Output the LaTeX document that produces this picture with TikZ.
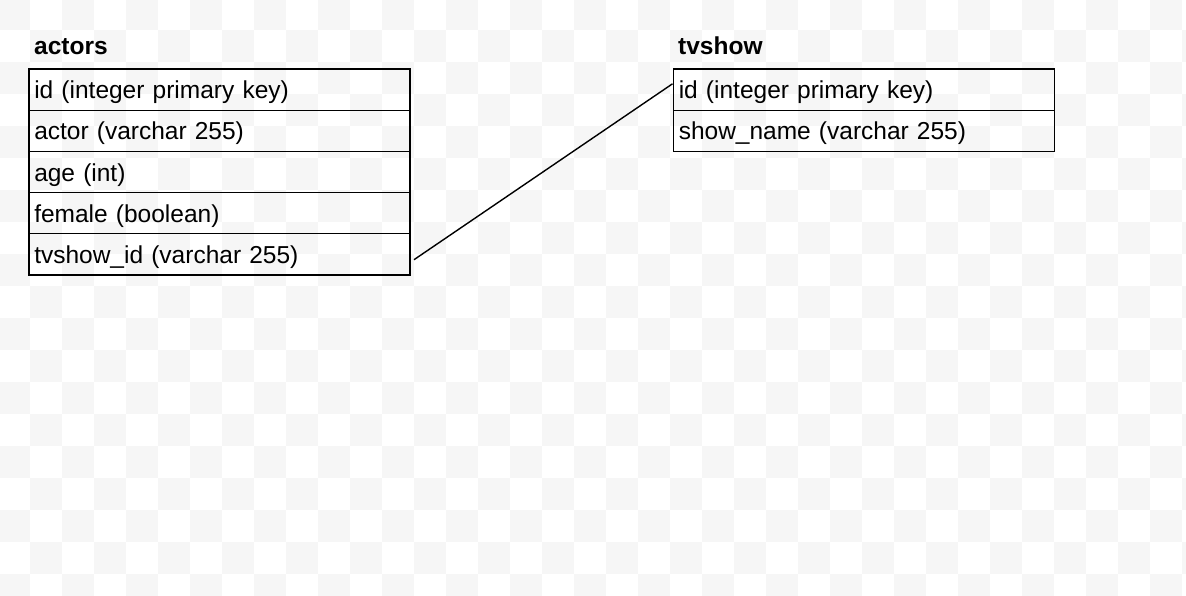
\documentclass[tikz,border=0pt]{standalone}
\usepackage{fontspec}
\setmainfont{Liberation Sans}
\usetikzlibrary{calc}
\definecolor{chk}{RGB}{246,246,246}
\tikzset{
  rowbox/.style={draw=black, line width=1.5bp, rectangle, anchor=north west,
    minimum width=381bp, minimum height=41.1bp, inner xsep=5.5bp, inner ysep=0pt,
    text width=370bp, align=left, text height=29.6bp, text depth=11.5bp,
    font=\fontsize{24.5bp}{29bp}\selectfont},
  tabtitle/.style={anchor=base west, inner sep=0pt,
    font=\fontsize{24.5bp}{29bp}\selectfont\bfseries},
  conn/.style={draw=black, line width=1.4bp}
}
\begin{document}
\begin{tikzpicture}[x=1bp,y=-1bp]
\useasboundingbox (0,0) rectangle (1186,596);
\begin{scope}
\clip (0,0) rectangle (1186,596);
\fill[white] (0,0) rectangle (1186,596);
\foreach \i in {0,...,37}{
  \foreach \j in {0,...,18}{
    \pgfmathtruncatemacro\s{mod(\i+\j,2)}
    \ifnum\s=0 \fill[chk] (-2+32*\i,-2+32*\j) rectangle ++(32,32);\fi
  }
}
\end{scope}
% actors table
\node[tabtitle] (tA) at (34,54.5) {actors};
\node[rowbox] (a1) at (28,68.5) {id (integer primary key)};
\node[rowbox] (a2) at (28,109.6) {actor (varchar 255)};
\node[rowbox] (a3) at (28,150.7) {age (int)};
\node[rowbox] (a4) at (28,191.8) {female (boolean)};
\node[rowbox] (a5) at (28,232.9) {tvshow\_id (varchar 255)};
% tvshow table
\node[tabtitle] (tT) at (678,54.5) {tvshow};
\node[rowbox] (t1) at (672.5,68.5) {id (integer primary key)};
\node[rowbox] (t2) at (672.5,109.6) {show\_name (varchar 255)};
% connector
\coordinate (cs) at ($(a5.east)+(3.5,5.5)$);
\coordinate (ce) at ($(t1.west)+(0,-6)$);
\draw[conn] (cs) -- (ce);
\end{tikzpicture}
\end{document}
